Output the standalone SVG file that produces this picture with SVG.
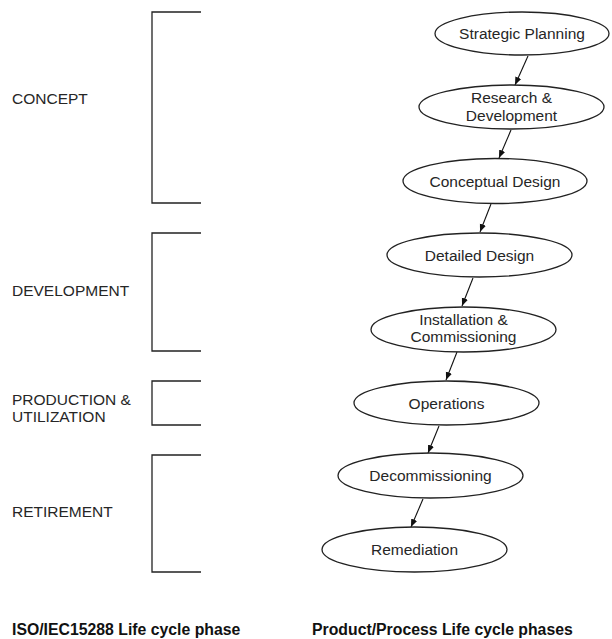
<svg xmlns="http://www.w3.org/2000/svg" width="612" height="639" viewBox="0 0 612 639">
<style>
  text { font-family: "Liberation Sans", Arial, sans-serif; font-size: 15.5px; fill: #262626; }
  .node ellipse { fill: #ffffff; stroke: #222222; stroke-width: 1.3; }
  .node text { text-anchor: middle; }
  .bracket { fill: none; stroke: #222222; stroke-width: 1.3; }
  .edge { fill: none; stroke: #111111; stroke-width: 1.1; marker-end: url(#arrow); }
  .title { font-weight: bold; font-size: 15.8px; fill: #111111; }
</style>
<defs>
  <marker id="arrow" viewBox="0 0 10 10" refX="10" refY="5" markerWidth="8" markerHeight="8" markerUnits="userSpaceOnUse" orient="auto">
    <path d="M0,1 L10,5 L0,9 z" fill="#111111"/>
  </marker>
</defs>
<rect width="612" height="639" fill="#ffffff"/>

<g id="phases">
  <g id="phase-concept">
    <path class="bracket" d="M201,12 H152 V203 H201"/>
    <text x="12" y="104">CONCEPT</text>
  </g>
  <g id="phase-development">
    <path class="bracket" d="M201,233 H152 V351 H201"/>
    <text x="12" y="296">DEVELOPMENT</text>
  </g>
  <g id="phase-production">
    <path class="bracket" d="M201,381 H152 V425 H201"/>
    <text x="12" y="405">PRODUCTION &amp;</text>
    <text x="12" y="422">UTILIZATION</text>
  </g>
  <g id="phase-retirement">
    <path class="bracket" d="M201,455 H152 V572 H201"/>
    <text x="12" y="517">RETIREMENT</text>
  </g>
</g>

<g id="connectors">
  <line class="edge" x1="528" y1="56" x2="515" y2="85"/>
  <line class="edge" x1="511" y1="130" x2="499" y2="158"/>
  <line class="edge" x1="491" y1="204" x2="480" y2="232"/>
  <line class="edge" x1="473" y1="278" x2="462" y2="306"/>
  <line class="edge" x1="457" y1="352" x2="446" y2="380"/>
  <line class="edge" x1="439" y1="426" x2="428" y2="453"/>
  <line class="edge" x1="423" y1="499" x2="411" y2="527"/>
</g>

<g id="node-strategic" class="node">
  <ellipse cx="522" cy="33.5" rx="87" ry="21.5"/>
  <text x="522" y="39">Strategic Planning</text>
</g>
<g id="node-research" class="node">
  <ellipse cx="511.5" cy="107" rx="92.5" ry="22"/>
  <text x="511.5" y="103">Research &amp;</text>
  <text x="511.5" y="121">Development</text>
</g>
<g id="node-conceptual" class="node">
  <ellipse cx="495" cy="181" rx="92" ry="22.5"/>
  <text x="495" y="186.5">Conceptual Design</text>
</g>
<g id="node-detailed" class="node">
  <ellipse cx="479.5" cy="255" rx="92.5" ry="22"/>
  <text x="479.5" y="260.5">Detailed Design</text>
</g>
<g id="node-installation" class="node">
  <ellipse cx="463.5" cy="329.5" rx="92.5" ry="22.5"/>
  <text x="463.5" y="324.5">Installation &amp;</text>
  <text x="463.5" y="342">Commissioning</text>
</g>
<g id="node-operations" class="node">
  <ellipse cx="446.5" cy="403" rx="92.5" ry="22"/>
  <text x="446.5" y="408.5">Operations</text>
</g>
<g id="node-decommissioning" class="node">
  <ellipse cx="430.5" cy="475.5" rx="92.5" ry="22.5"/>
  <text x="430.5" y="481">Decommissioning</text>
</g>
<g id="node-remediation" class="node">
  <ellipse cx="414.5" cy="549.5" rx="92.5" ry="22.5"/>
  <text x="414.5" y="555">Remediation</text>
</g>

<g id="titles">
  <text class="title" x="12" y="635">ISO/IEC15288 Life cycle phase</text>
  <text class="title" x="312" y="635">Product/Process Life cycle phases</text>
</g>
</svg>
